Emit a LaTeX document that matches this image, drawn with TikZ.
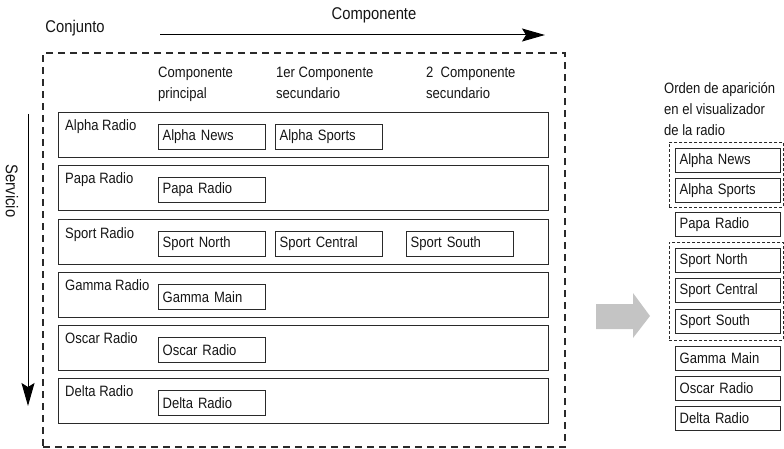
\documentclass[tikz,border=0pt]{standalone}
\usepackage{fontspec}
\setmainfont{Liberation Sans}[FakeStretch=0.87]
\usetikzlibrary{arrows.meta}
\definecolor{linec}{HTML}{2A2A2A}
\definecolor{txtc}{HTML}{151515}
\definecolor{arrowgray}{HTML}{C4C4C4}
\begin{document}
\begin{tikzpicture}[x=1pt,y=-1pt,
  every node/.style={text=txtc},
  body/.style={font=\fontsize{15}{21}\selectfont},
  big/.style={font=\fontsize{17}{20}\selectfont},
  lbl/.style={body, inner sep=0pt, anchor=base west},
  head/.style={body, inner sep=0pt, anchor=north west, align=left},
  rowbox/.style={draw=linec, line width=1.3pt, minimum width=490pt, minimum height=45pt, anchor=north west, inner sep=0pt},
  item/.style={draw=linec, line width=1.2pt, body, text width=99pt, inner xsep=4pt, inner ysep=0pt, minimum height=25pt, anchor=north west, align=left},
  ritem/.style={draw=linec, line width=1.2pt, body, text width=97pt, inner xsep=4pt, inner ysep=0pt, minimum height=24pt, anchor=north west, align=left},
  grp/.style={draw=linec, line width=0.8pt, dash pattern=on 3pt off 2pt},
  axis/.style={draw=black, line width=1pt, -{Stealth[length=23pt,width=13pt,inset=4pt]}}
]
\useasboundingbox (0,0) rectangle (784,449);

% top labels and axes
\node[big, inner sep=0pt] (conj) at (75,28) {Conjunto};
\node[big, inner sep=0pt] (comp) at (374,15) {Componente};
\coordinate (hs) at (160,35);
\coordinate (he) at (545,35);
\draw[axis] (hs) -- (he);
\node[big, inner sep=0pt, rotate=-90] (serv) at (12,191) {Servicio};
\coordinate (vs) at (28,114);
\coordinate (ve) at (28,406);
\draw[axis] (vs) -- (ve);

% big dashed frame
\node[draw=linec, line width=2.2pt, dash pattern=on 7pt off 5pt, inner sep=0pt,
      minimum width=522pt, minimum height=394pt, anchor=north west] (frame) at (42,52) {};

% column headings
\node[head] (h1) at (158,67) {Componente\\principal};
\node[head] (h2) at (276,67) {1er Componente\\secundario};
\node[head] (h3) at (426,67) {2\ \ Componente\\secundario};

% rows
\node[rowbox] (r1) at (58,112) {};
\node[rowbox] (r2) at (58,165) {};
\node[rowbox] (r3) at (58,219) {};
\node[rowbox] (r4) at (58,272) {};
\node[rowbox] (r5) at (58,325) {};
\node[rowbox] (r6) at (58,378) {};

\node[lbl] (l1) at (65,131) {Alpha Radio};
\node[lbl] (l2) at (65,184) {Papa Radio};
\node[lbl] (l3) at (65,238) {Sport Radio};
\node[lbl] (l4) at (65,290) {Gamma Radio};
\node[lbl] (l5) at (65,343) {Oscar Radio};
\node[lbl] (l6) at (65,396) {Delta Radio};

\node[item] (a1) at (158,124) {Alpha News};
\node[item] (a2) at (275,124) {Alpha Sports};
\node[item] (p1) at (158,177) {Papa Radio};
\node[item] (s1) at (158,231) {Sport North};
\node[item] (s2) at (275,231) {Sport Central};
\node[item] (s3) at (406,231) {Sport South};
\node[item] (g1) at (158,284) {Gamma Main};
\node[item] (o1) at (158,337) {Oscar Radio};
\node[item] (d1) at (158,390) {Delta Radio};

% gray block arrow
\fill[arrowgray] (596,304) -- (633,304) -- (633,293) -- (650,316) -- (633,338) -- (633,329) -- (596,329) -- cycle;

% right side
\node[head] (ord) at (664,82) {Orden de aparición\\en el visualizador\\de la radio};

\node[grp, inner sep=0pt, minimum width=114pt, minimum height=65pt, anchor=north west] (g1box) at (669,142) {};
\node[grp, inner sep=0pt, minimum width=114pt, minimum height=98pt, anchor=north west] (g2box) at (669,242) {};

\node[ritem] (ra1) at (675,148) {Alpha News};
\node[ritem] (ra2) at (675,178) {Alpha Sports};
\node[ritem] (rp1) at (675,212) {Papa Radio};
\node[ritem] (rs1) at (675,248) {Sport North};
\node[ritem] (rs2) at (675,278) {Sport Central};
\node[ritem] (rs3) at (675,309) {Sport South};
\node[ritem] (rg1) at (675,346) {Gamma Main};
\node[ritem] (ro1) at (675,376) {Oscar Radio};
\node[ritem] (rd1) at (675,406) {Delta Radio};
\end{tikzpicture}
\end{document}
